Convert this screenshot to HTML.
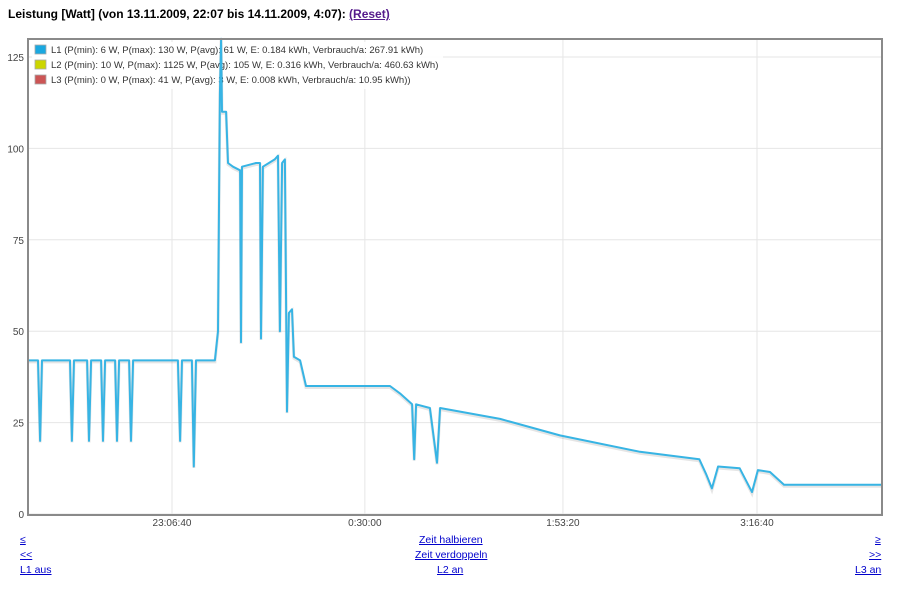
<!DOCTYPE html>
<html><head><meta charset="utf-8"><style>
body{margin:0;background:#fff;font-family:"Liberation Sans",sans-serif;}
#title{position:absolute;left:8px;top:7px;font-size:12px;font-weight:bold;color:#000;}
#title a{color:#551a8b;}
.lnk{position:absolute;font-size:10.5px;color:#00c;text-decoration:underline;}
</style></head><body>
<div id="title">Leistung [Watt] (von 13.11.2009, 22:07 bis 14.11.2009, 4:07): <a href="#">(Reset)</a></div>
<svg id="chart" width="902" height="593" style="position:absolute;left:0;top:0">
<g id="grid"></g>
<g font-size="9.5" fill="#333">
<rect x="32" y="42" width="411" height="47" fill="#fff" opacity="0.85"/>
<rect x="35" y="45" width="11" height="9" fill="#1aa8e0" stroke="#aaa" stroke-width="0.8"/>
<text x="51" y="53">L1 (P(min): 6 W, P(max): 130 W, P(avg): 61 W, E: 0.184 kWh, Verbrauch/a: 267.91 kWh)</text>
<rect x="35" y="60" width="11" height="9" fill="#ccd600" stroke="#aaa" stroke-width="0.8"/>
<text x="51" y="68">L2 (P(min): 10 W, P(max): 1125 W, P(avg): 105 W, E: 0.316 kWh, Verbrauch/a: 460.63 kWh)</text>
<rect x="35" y="75" width="11" height="9" fill="#cc5555" stroke="#aaa" stroke-width="0.8"/>
<text x="51" y="83">L3 (P(min): 0 W, P(max): 41 W, P(avg): 3 W, E: 0.008 kWh, Verbrauch/a: 10.95 kWh))</text>
</g>
<g id="series"></g>
<rect x="28" y="39" width="854" height="476" fill="none" stroke="#8a8a8a" stroke-width="2"/>
<g id="axes" font-size="10" fill="#444"></g>
</svg>
<a class="lnk" style="left:20px;top:534px">≤</a>
<a class="lnk" style="left:419px;top:534px">Zeit halbieren</a>
<a class="lnk" style="left:875px;top:534px">≥</a>
<a class="lnk" style="left:20px;top:549px">&lt;&lt;</a>
<a class="lnk" style="left:415px;top:549px">Zeit verdoppeln</a>
<a class="lnk" style="left:869px;top:549px">&gt;&gt;</a>
<a class="lnk" style="left:20px;top:564px">L1 aus</a>
<a class="lnk" style="left:437px;top:564px">L2 an</a>
<a class="lnk" style="left:855px;top:564px">L3 an</a>
<script>
const yTicks=[0,25,50,75,100,125];
const xTickMinutes=[60.7,142,225.5,307.3];
const xTickLabels=["23:06:40","0:30:00","1:53:20","3:16:40"];
const l1Minutes=[0,3.4,4.2,5.1,5.9,17.7,18.5,19.4,24.9,25.7,26.6,30.8,31.6,32.5,36.7,37.5,38.4,42.6,43.4,44.3,63.2,64.1,64.9,69.1,69.9,70.8,78.8,80.1,80.9,81.4,81.8,83.5,84.3,86.4,89.4,89.8,90.2,96.1,97.8,98.2,99,104,105.4,106.2,107.1,108.3,109.2,110,111.3,112.1,114.7,117.2,131.5,152.6,156.8,161.9,162.8,163.6,169.4,172.4,173.7,199,224.2,258,283,285.8,288.3,290.9,300,305.2,307.7,312.8,318.7,360];
const l1Watts=[42,42,42,20,42,42,20,42,42,20,42,42,20,42,42,20,42,42,20,42,42,20,42,42,13,42,42,50,115,130,110,110,96,95,94,47,95,96,96,48,95,97,98,50,96,97,28,55,56,43,42,35,35,35,33,30,15,30,29,14,29,26,21.5,17,15,11,7,13,12.5,6,12,11.5,8,8];
const X0=28,X1=882,Y0=514,Y1=57;
const xs=m=>X0+m/360*(X1-X0);
const ys=v=>Y0-v/125*(Y0-Y1);
const NS="http://www.w3.org/2000/svg";
const grid=document.getElementById('grid'),axes=document.getElementById('axes'),ser=document.getElementById('series');
yTicks.forEach(v=>{
 const l=document.createElementNS(NS,'line');
 
 
 l.setAttribute('x1',X0);l.setAttribute('x2',X1);l.setAttribute('y1',ys(v));l.setAttribute('y2',ys(v));
 l.setAttribute('stroke','#e6e6e6');grid.appendChild(l);
 const t=document.createElementNS(NS,'text');
 
 
 t.setAttribute('x',24);t.setAttribute('y',ys(v)+4);t.setAttribute('text-anchor','end');t.textContent=v;axes.appendChild(t);
});
xTickMinutes.forEach((m,i)=>{
 const l=document.createElementNS(NS,'line');
 
 
 l.setAttribute('x1',xs(m));l.setAttribute('x2',xs(m));l.setAttribute('y1',39);l.setAttribute('y2',515);
 l.setAttribute('stroke','#e6e6e6');grid.appendChild(l);
 const t=document.createElementNS(NS,'text');
 
 
 t.setAttribute('x',xs(m));t.setAttribute('y',526);t.setAttribute('text-anchor','middle');t.textContent=xTickLabels[i];axes.appendChild(t);
});
const d=l1Minutes.map((m,i)=>(i?'L':'M')+xs(m).toFixed(1)+','+ys(l1Watts[i]).toFixed(1)).join('');
const sh=document.createElementNS(NS,'path');


sh.setAttribute('d',d);sh.setAttribute('fill','none');sh.setAttribute('stroke','rgba(0,0,0,0.1)');sh.setAttribute('stroke-width','3');sh.setAttribute('transform','translate(0,1.5)');
ser.appendChild(sh);
const p=document.createElementNS(NS,'path');


p.setAttribute('d',d);p.setAttribute('fill','none');p.setAttribute('stroke','#37b4e4');p.setAttribute('stroke-width','2');p.setAttribute('stroke-linejoin','round');
ser.appendChild(p);
</script>
</body></html>
